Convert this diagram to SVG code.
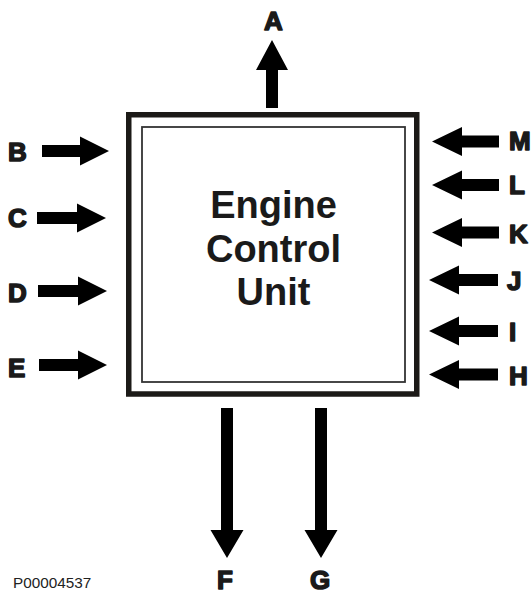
<svg xmlns="http://www.w3.org/2000/svg" width="531" height="594" viewBox="0 0 531 594">
  <style>
    .arr { fill: #000000; }
    .lbl { font-family: "Liberation Sans", Arial, sans-serif; font-weight: bold; font-size: 26px; fill: #1a1a1a; stroke: #1a1a1a; stroke-width: 1.5; stroke-linejoin: round; }
    .title { font-family: "Liberation Sans", Arial, sans-serif; font-weight: bold; font-size: 38px; fill: #1a1a1a; text-anchor: middle; }
    .code { font-family: "Liberation Sans", Arial, sans-serif; font-size: 15.3px; fill: #222222; }
  </style>
  <rect width="531" height="594" fill="#ffffff"/>

  <g id="ecu">
    <rect x="128.75" y="114.75" width="288" height="279.25" fill="none" stroke="#1c1a17" stroke-width="5.5"/>
    <rect x="142" y="127" width="263" height="255" fill="none" stroke="#333333" stroke-width="1.8"/>
    <text class="title" x="273.5" y="218">Engine</text>
    <text class="title" x="273.5" y="262">Control</text>
    <text class="title" x="273.5" y="305">Unit</text>
  </g>

  <g id="connectors">
    <!-- A (up) -->
    <polygon class="arr" points="266,108 266,70 256,70 272,40 288,70 278,70 278,108"/>
    <!-- left inputs -->
    <polygon class="arr" points="42,145 80,145 80,136.5 109,151 80,165.5 80,157 42,157"/>
    <polygon class="arr" points="37,212 77,212 77,203.5 106,218 77,232.5 77,224 37,224"/>
    <polygon class="arr" points="38,285 78,285 78,276.5 107,291 78,305.5 78,297 38,297"/>
    <polygon class="arr" points="39,359 78,359 78,350.5 107,365 78,379.5 78,371 39,371"/>
    <!-- right inputs -->
    <polygon class="arr" points="499,135.5 462,135.5 462,127 432,141.5 462,156 462,147.5 499,147.5"/>
    <polygon class="arr" points="499,179 462,179 462,170.5 432,185 462,199.5 462,191 499,191"/>
    <polygon class="arr" points="499,226.5 462,226.5 462,218 432,232.5 462,247 462,238.5 499,238.5"/>
    <polygon class="arr" points="498,274 459,274 459,265.5 429,280 459,294.5 459,286 498,286"/>
    <polygon class="arr" points="498,325 459,325 459,316.5 429,331 459,345.5 459,337 498,337"/>
    <polygon class="arr" points="498,368.5 459,368.5 459,360 429,374.5 459,389 459,380.5 498,380.5"/>
    <!-- bottom outputs -->
    <polygon class="arr" points="221,408 233,408 233,530 243.5,530 227,558 210.5,530 221,530"/>
    <polygon class="arr" points="315,408 327,408 327,530 337.5,530 321,558 304.5,530 315,530"/>
  </g>

  <g id="labels">
    <text id="label-A" class="lbl" x="273.5" y="30" text-anchor="middle">A</text>
    <text id="label-B" class="lbl" x="8" y="160.5">B</text>
    <text id="label-C" class="lbl" x="8" y="227">C</text>
    <text id="label-D" class="lbl" x="8" y="302">D</text>
    <text id="label-E" class="lbl" x="8" y="377">E</text>
    <text id="label-F" class="lbl" x="225" y="588.5" text-anchor="middle">F</text>
    <text id="label-G" class="lbl" x="320" y="588.5" text-anchor="middle">G</text>
    <text id="label-H" class="lbl" x="509" y="384.5">H</text>
    <text id="label-I" class="lbl" x="509" y="341">I</text>
    <text id="label-J" class="lbl" x="507" y="289.5">J</text>
    <text id="label-K" class="lbl" x="509" y="242.5">K</text>
    <text id="label-L" class="lbl" x="509" y="193.5">L</text>
    <text id="label-M" class="lbl" x="509" y="150">M</text>
    <text id="code" class="code" x="13" y="587.5">P00004537</text>
  </g>
</svg>
